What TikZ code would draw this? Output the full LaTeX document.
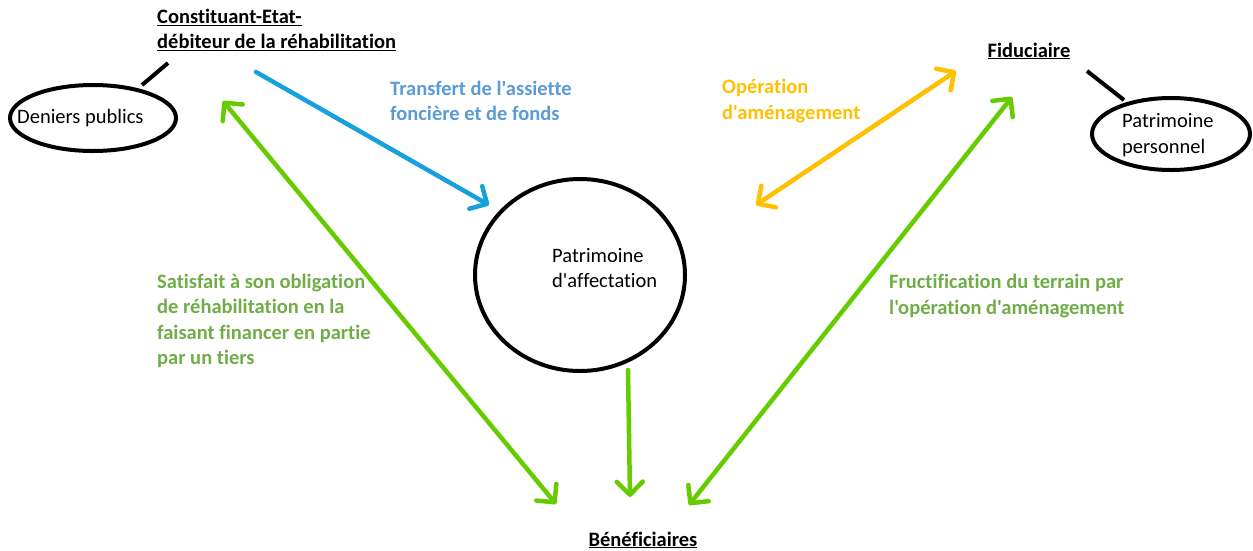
\documentclass[tikz,border=0pt]{standalone}
\usepackage{fontspec}
\setmainfont{Carlito}[Ligatures={TeXOff,NoCommon}]
\usetikzlibrary{arrows.meta}
\definecolor{flowblue}{HTML}{17A1DC}
\definecolor{labelblue}{HTML}{5B9BD5}
\definecolor{opyellow}{HTML}{FFC000}
\definecolor{flowgreen}{HTML}{66CC00}
\definecolor{labelgreen}{HTML}{70AD47}
\tikzset{
  txt/.style={inner sep=0pt, font=\fontsize{20.5}{25.5}\selectfont, align=left},
  title/.style={txt, font=\fontsize{20.5}{25.5}\selectfont\bfseries},
  lbl/.style={txt, font=\fontsize{20.5}{25.5}\selectfont\bfseries},
  tail/.style={draw=black, line width=4pt},
  flow/.style={line width=4.5pt, line cap=round},
  barb/.style={Straight Barb[length=13pt, width=26pt, round]},
  single/.style={-{Straight Barb[length=13pt, width=26pt, round]}},
  double/.style={{Straight Barb[length=13pt, width=26pt, round]}-{Straight Barb[length=13pt, width=26pt, round]}},
}
\begin{document}
\begin{tikzpicture}[x=1pt, y=-1pt]
\useasboundingbox (0,0) rectangle (1253,550);

% parties
\node[title, anchor=west] (const) at (157,30) {\underline{Constituant-Etat-}\\\underline{débiteur de la réhabilitation}};
\node[title, anchor=center] (fid) at (1029,51) {\underline{Fiduciaire}};
\node[title, anchor=center] (benef) at (643,540) {\underline{Bénéficiaires}};

% patrimonies
\coordinate (denC) at (93,118);
\draw[line width=4pt] (denC) ellipse [x radius=83, y radius=33];
\node[txt, anchor=west] (den) at (17,118) {Deniers publics};
\coordinate (affC) at (580,275);
\draw[line width=4pt] (affC) ellipse [x radius=105, y radius=96];
\node[txt, anchor=west] (aff) at (552,268) {Patrimoine\\d'affectation};
\coordinate (persC) at (1171,134);
\draw[line width=4pt] (persC) ellipse [x radius=79, y radius=36];
\node[txt, anchor=west] (pers) at (1122,135) {Patrimoine\\personnel};

% callout tails
\coordinate (denTail) at (168,63);
\coordinate (denTop) at (142,85);
\draw[tail] (denTop) -- (denTail);
\coordinate (persTail) at (1087,71);
\coordinate (persTop) at (1124,100);
\draw[tail] (persTail) -- (persTop);

% flows
\coordinate (bS) at (256,72);
\coordinate (bE) at (489,205);
\draw[flow, flowblue, single] (bS) -- (bE);

\coordinate (oA) at (756,205);
\coordinate (oB) at (956,71);
\draw[flow, opyellow, double] (oA) -- (oB);

\coordinate (gLA) at (223,101);
\coordinate (gLB) at (556,504);
\draw[flow, flowgreen, double] (gLA) -- (gLB);

\coordinate (gRA) at (1012,97);
\coordinate (gRB) at (689,505);
\draw[flow, flowgreen, double] (gRA) -- (gRB);

\coordinate (gMA) at (628,370);
\coordinate (gMB) at (630,497);
\draw[flow, flowgreen, single] (gMA) -- (gMB);

% flow labels
\node[lbl, labelblue, anchor=west] (lblB) at (390,101) {Transfert de l'assiette\\foncière et de fonds};
\node[lbl, opyellow, anchor=west] (lblO) at (722,101) {Opération\\d'aménagement};
\node[lbl, labelgreen, anchor=west] (lblL) at (157,321) {Satisfait à son obligation\\de réhabilitation en la\\faisant financer en partie\\par un tiers};
\node[lbl, labelgreen, anchor=west] (lblR) at (889,296) {Fructification du terrain par\\l'opération d'aménagement};
\end{tikzpicture}
\end{document}
